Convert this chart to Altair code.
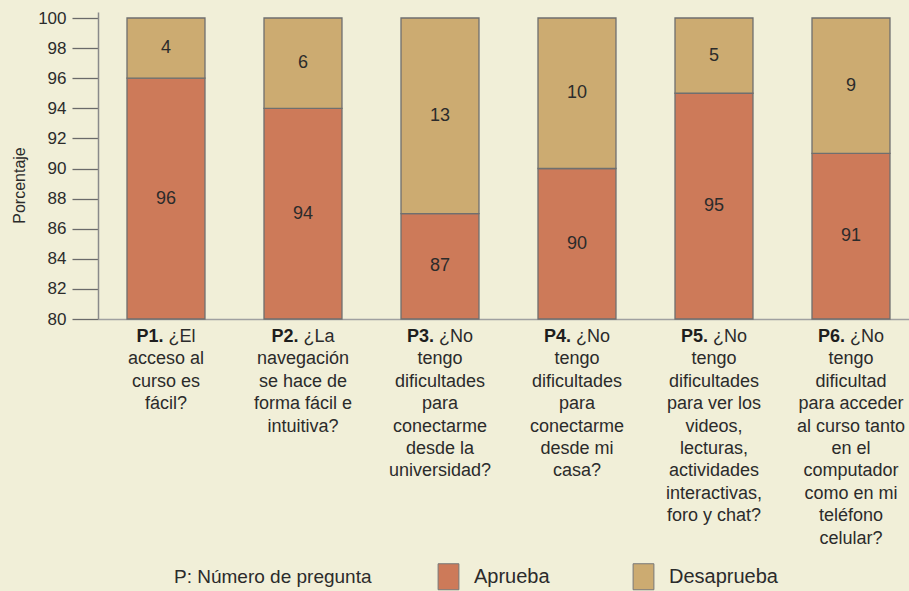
import altair as alt
import pandas as pd

# ---------------- data ----------------
questions = ["P1", "P2", "P3", "P4", "P5", "P6"]
aprueba = [96, 94, 87, 90, 95, 91]
desaprueba = [4, 6, 13, 10, 5, 9]
categories = ["Aprueba", "Desaprueba"]
colors = ["#CD7A59", "#CCAB71"]
y_ticks = [80, 82, 84, 86, 88, 90, 92, 94, 96, 98, 100]

label_bold = ["P1.", "P2.", "P3.", "P4.", "P5.", "P6."]
label_first = ["¿El", "¿La", "¿No", "¿No", "¿No", "¿No"]
label_rest = [
    ["acceso al", "curso es", "fácil?"],
    ["navegación", "se hace de", "forma fácil e", "intuitiva?"],
    ["tengo", "dificultades", "para", "conectarme", "desde la", "universidad?"],
    ["tengo", "dificultades", "para", "conectarme", "desde mi", "casa?"],
    ["tengo", "dificultades", "para ver los", "videos,", "lecturas,",
     "actividades", "interactivas,", "foro y chat?"],
    ["tengo", "dificultad", "para acceder", "al curso tanto", "en el",
     "computador", "como en mi", "teléfono", "celular?"],
]

FONT = "Liberation Sans"
TXT = "#2b2b2b"
LABEL_FS = 18
LINE_H = 22.4

rows = []
for i, q in enumerate(questions):
    rows.append({"q": q, "cat": categories[0], "value": aprueba[i], "ord": 0})
    rows.append({"q": q, "cat": categories[1], "value": desaprueba[i], "ord": 1})
df = pd.DataFrame(rows)

lab_df = pd.DataFrame({"q": questions, "bold": label_bold,
                       "first": label_first, "rest": label_rest})

# approximate Arial / Liberation Sans advance widths (per 1000 em)
W_REG = {" ": 278, "¿": 611, "E": 667, "l": 222, "L": 556, "a": 556,
         "N": 722, "o": 556}
W_BOLD = {"P": 667, ".": 278}


def text_w(s, table, fs):
    return sum(table.get(c, 556) for c in s) * fs / 1000.0


x_scale = alt.Scale(paddingInner=0.4307, paddingOuter=0.1752, align=0.604)
y_scale = alt.Scale(domain=[80, 100.4], nice=False, zero=False)

x_axis = alt.Axis(labels=False, ticks=False, title=None,
                  domainColor="#a0a0a0", domainWidth=1.5)
y_axis = alt.Axis(values=y_ticks, title="Porcentaje", grid=False,
                  labelOverlap=False, tickCount=11,
                  tickSize=26, tickColor="#6a6a6a", tickWidth=1.3,
                  domainColor="#8a8a8a", domainWidth=1.5,
                  labelFontSize=17, labelColor=TXT, labelPadding=6,
                  labelFont=FONT,
                  titleFont=FONT, titleFontSize=16,
                  titleFontWeight="normal", titleColor=TXT,
                  titleAngle=270, titleX=-79, titleY=173,
                  titleAlign="center", titleBaseline="middle")

base = alt.Chart(df).transform_stack(
    stack="value", as_=["y0", "y1"], groupby=["q"],
    sort=[alt.SortField("ord", order="ascending")]
).transform_calculate(
    lo="max(datum.y0, 80)",
    mid="(max(datum.y0, 80) + datum.y1) / 2"
)

bars = base.mark_bar(stroke="#6f6f6f", strokeWidth=1.3).encode(
    x=alt.X("q:N", scale=x_scale, sort=questions, axis=x_axis),
    y=alt.Y("y1:Q", scale=y_scale, axis=y_axis),
    y2="lo:Q",
    color=alt.Color("cat:N", scale=alt.Scale(domain=categories, range=colors),
                    legend=alt.Legend(
                        title="P: Número de pregunta", orient="none",
                        legendX=76, legendY=551, direction="horizontal",
                        titleOrient="left", titleFont=FONT, titleFontSize=19,
                        titleFontWeight="normal", titleColor=TXT,
                        titlePadding=63, titleBaseline="middle",
                        titleLimit=500,
                        labelFont=FONT, labelFontSize=20, labelColor=TXT,
                        labelOffset=12, columnPadding=80,
                        symbolType="M-0.8,-1H0.8V1H-0.8Z", symbolSize=676,
                        symbolStrokeColor="#777777", symbolStrokeWidth=1,
                        symbolOpacity=1)),
    order=alt.Order("ord:Q"),
)

values = base.mark_text(font=FONT, fontSize=18, color=TXT,
                        baseline="middle").encode(
    x=alt.X("q:N", sort=questions, axis=x_axis),
    y=alt.Y("mid:Q", axis=y_axis),
    text=alt.Text("value:Q"),
)

layers = [bars, values]

for i, q in enumerate(questions):
    wb = text_w(label_bold[i], W_BOLD, LABEL_FS)
    ws = text_w(" ", W_REG, LABEL_FS)
    wr = text_w(label_first[i], W_REG, LABEL_FS)
    total = wb + ws + wr
    lb = alt.Chart(lab_df).transform_filter(alt.datum.q == q).mark_text(
        font=FONT, fontSize=LABEL_FS, fontWeight="bold", color="#1e1e1e",
        align="right", baseline="alphabetic", dx=-total / 2 + wb, dy=23
    ).encode(x=alt.X("q:N", sort=questions, axis=x_axis),
             y=alt.YDatum(80, axis=y_axis), text="bold:N")
    lf = alt.Chart(lab_df).transform_filter(alt.datum.q == q).mark_text(
        font=FONT, fontSize=LABEL_FS, color=TXT,
        align="left", baseline="alphabetic", dx=-total / 2 + wb + ws, dy=23
    ).encode(x=alt.X("q:N", sort=questions, axis=x_axis),
             y=alt.YDatum(80, axis=y_axis), text="first:N")
    layers += [lb, lf]

rest = alt.Chart(lab_df).mark_text(
    font=FONT, fontSize=LABEL_FS, color=TXT, align="center",
    baseline="alphabetic", lineHeight=LINE_H, dy=23 + LINE_H
).encode(x=alt.X("q:N", sort=questions, axis=x_axis),
         y=alt.YDatum(80, axis=y_axis), text="rest:N")
layers.append(rest)

chart = alt.layer(*layers).properties(
    width=811, height=307,
    padding={"left": 98, "top": 12, "right": 0, "bottom": 272},
    autosize=alt.AutoSizeParams(type="none"),
    background="#F1EFD8",
).configure_view(stroke=None).configure_text(font=FONT)

chart.save("out.html", embed_options={"renderer": "svg", "actions": False})
